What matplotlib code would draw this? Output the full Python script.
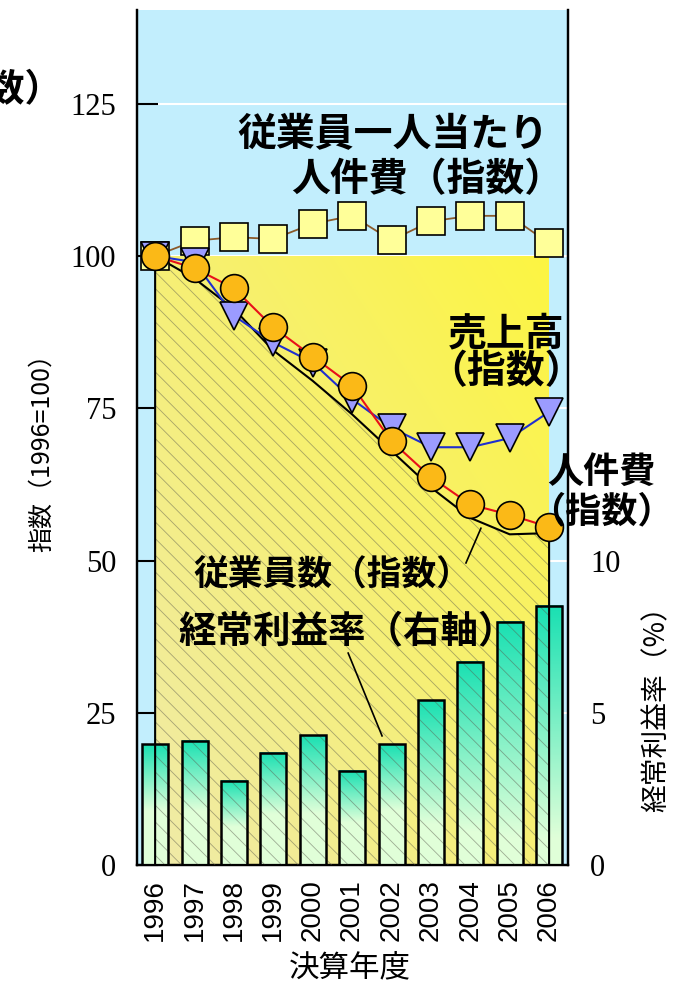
import numpy as np
import matplotlib
matplotlib.use("Agg")
import matplotlib.pyplot as plt

plt.rcParams["font.family"] = ["Noto Sans CJK JP", "DejaVu Sans"]
plt.rcParams["hatch.linewidth"] = 0.6

years = [1996, 1997, 1998, 1999, 2000, 2001, 2002, 2003, 2004, 2005, 2006]
# index values (1996 = 100)
labor_per_emp = [100, 102.5, 103.1, 102.8, 105.3, 106.6, 102.6, 105.7, 106.6, 106.6, 102.1]
labor_cost = [100, 98.0, 94.7, 88.3, 83.5, 78.7, 69.6, 63.7, 59.2, 57.5, 55.5]
sales = [100, 99.0, 90.2, 85.8, 82.5, 76.5, 71.8, 68.6, 68.6, 70.1, 74.4]
employees = [100, 96.3, 91.3, 84.5, 79.5, 74.0, 68.0, 62.0, 57.0, 54.3, 54.5]
# ordinary profit margin (%), right axis
margin = [3.97, 4.08, 2.76, 3.69, 4.26, 3.10, 3.97, 5.41, 6.68, 7.99, 8.52]

x = np.arange(len(years))

fig = plt.figure(figsize=(6.75, 9.88), dpi=100)
ax = fig.add_axes([137 / 675, 123 / 988, 431 / 675, 855 / 988])
ax.set_facecolor("#c2eefd")
ax.set_yticks([0, 25, 50, 75, 100, 125])
ax.yaxis.grid(True, color="white", lw=1.5)
ax.set_axisbelow(True)

# yellow gradient panel
gx, gy = np.meshgrid(np.linspace(0, 1, 200), np.linspace(0, 1, 200))
t = ((gx + gy) / 2)[..., None]
c_low = np.array([0.94, 0.92, 0.66])
c_high = np.array([0.99, 0.96, 0.26])
ax.imshow(c_low + (c_high - c_low) * t, extent=[0, 10, 0, 100], origin="lower",
          aspect="auto", zorder=1)

ax2 = ax.twinx()

# gradient bars (right axis)
w = 0.66
teal = np.array([0.10, 0.88, 0.70])
light = np.array([0.88, 1.0, 0.85])
for xi, h in zip(x, margin):
    tt = np.linspace(0, 1, 120)
    a = min(0.45, 0.45 * (4 / h) ** 2)
    c = np.clip((tt - a) / (1 - a), 0, 1)[:, None]
    img = (light + (teal - light) * c)[:, None, :]
    ax2.imshow(img, extent=[xi - w / 2, xi + w / 2, 0, h], origin="lower",
               aspect="auto", zorder=2)

# hatched area under the employee index
ax2.fill_between(x, 0, employees, transform=ax.transData, facecolor="none",
                 edgecolor=(0.35, 0.35, 0.3, 0.5), hatch="\\\\", lw=0, zorder=3)
ax2.bar(x, margin, width=w, fill=False, edgecolor="black", lw=1.8, zorder=4)
ax2.plot(np.r_[x[0], x, x[-1]], np.r_[0, employees, 0], color="black", lw=1.5,
         transform=ax.transData, zorder=5)

ax2.plot(x, labor_per_emp, color="#8b5a2b", lw=1.3, marker="s", ms=20,
         mfc="#ffff99", mec="black", mew=1.2, transform=ax.transData, zorder=6)
ax2.plot(x, sales, color="#1f2fd0", lw=1.5, marker="v", ms=20,
         mfc="#9b9bff", mec="black", mew=1.2, transform=ax.transData, zorder=7)
ax2.plot(x, labor_cost, color="#e8101a", lw=1.5, marker="o", ms=20,
         mfc="#fbb917", mec="black", mew=1.2, transform=ax.transData, zorder=8)

# annotations
kw = dict(transform=ax.transData, fontweight="bold", color="black", zorder=10,
          clip_on=False)
ax2.text(9.98, 119.9, "従業員一人当たり", ha="right", va="center", fontsize=28, **kw)
ax2.text(10.35, 112.6, "人件費（指数）", ha="right", va="center", fontsize=28, **kw)
ax2.text(8.9, 84.1, "売上高\n（指数）", ha="center", va="center", fontsize=28,
         linespacing=0.95, **kw)
ax2.text(13.17, 61.2, "人件費\n（指数）", ha="right", va="center", ma="center",
         fontsize=26, linespacing=1.1, **kw)
ax2.text(0.96, 47.6, "従業員数（指数）", ha="left", va="center", fontsize=25, **kw)
ax2.text(0.58, 38.3, "経常利益率（右軸）", ha="left", va="center", fontsize=27, **kw)
ax2.plot([7.89, 8.27], [49.6, 55.3], color="black", lw=1.2, transform=ax.transData,
         zorder=9)
ax2.plot([4.90, 5.76], [34.8, 21.2], color="black", lw=1.2, transform=ax.transData,
         zorder=9)
fig.text(62 / 675, 1 - 90 / 988, "（指数）", ha="right", va="center", fontsize=27,
         fontweight="bold")

# axes styling
ax.set_xlim(-0.46, 10.48)
ax.set_ylim(0, 140.4)
ax2.set_ylim(0, 140.4 / 5)
ax2.set_yticks([0, 5, 10])
ax.set_xticks(x, [str(y) for y in years], rotation=90)
for lab in ax.get_xticklabels():
    lab.set_fontfamily("Liberation Sans")
    lab.set_fontsize(20)
for lab in ax.get_yticklabels() + ax2.get_yticklabels():
    lab.set_fontfamily("Liberation Serif")
    lab.set_fontsize(22)
ax.tick_params(axis="y", direction="in", length=15, width=1.5, pad=15)
ax.tick_params(axis="x", length=0, pad=10)
ax2.tick_params(axis="y", direction="in", length=0, pad=16)
for a_ in (ax, ax2):
    a_.spines["top"].set_visible(False)
    for s in ("left", "right", "bottom"):
        a_.spines[s].set_linewidth(1.6)

ax.set_ylabel("指数（1996=100）", fontsize=18)
ax.yaxis.set_label_coords(-0.19, 0.49)
ax2.set_ylabel("経常利益率（%）", fontsize=20, rotation=90)
ax2.yaxis.set_label_coords(1.17, 0.19)
ax.set_xlabel("決算年度", fontsize=22)
ax.xaxis.set_label_coords(0.494, -0.102)

fig.savefig("out.png", dpi=100)
